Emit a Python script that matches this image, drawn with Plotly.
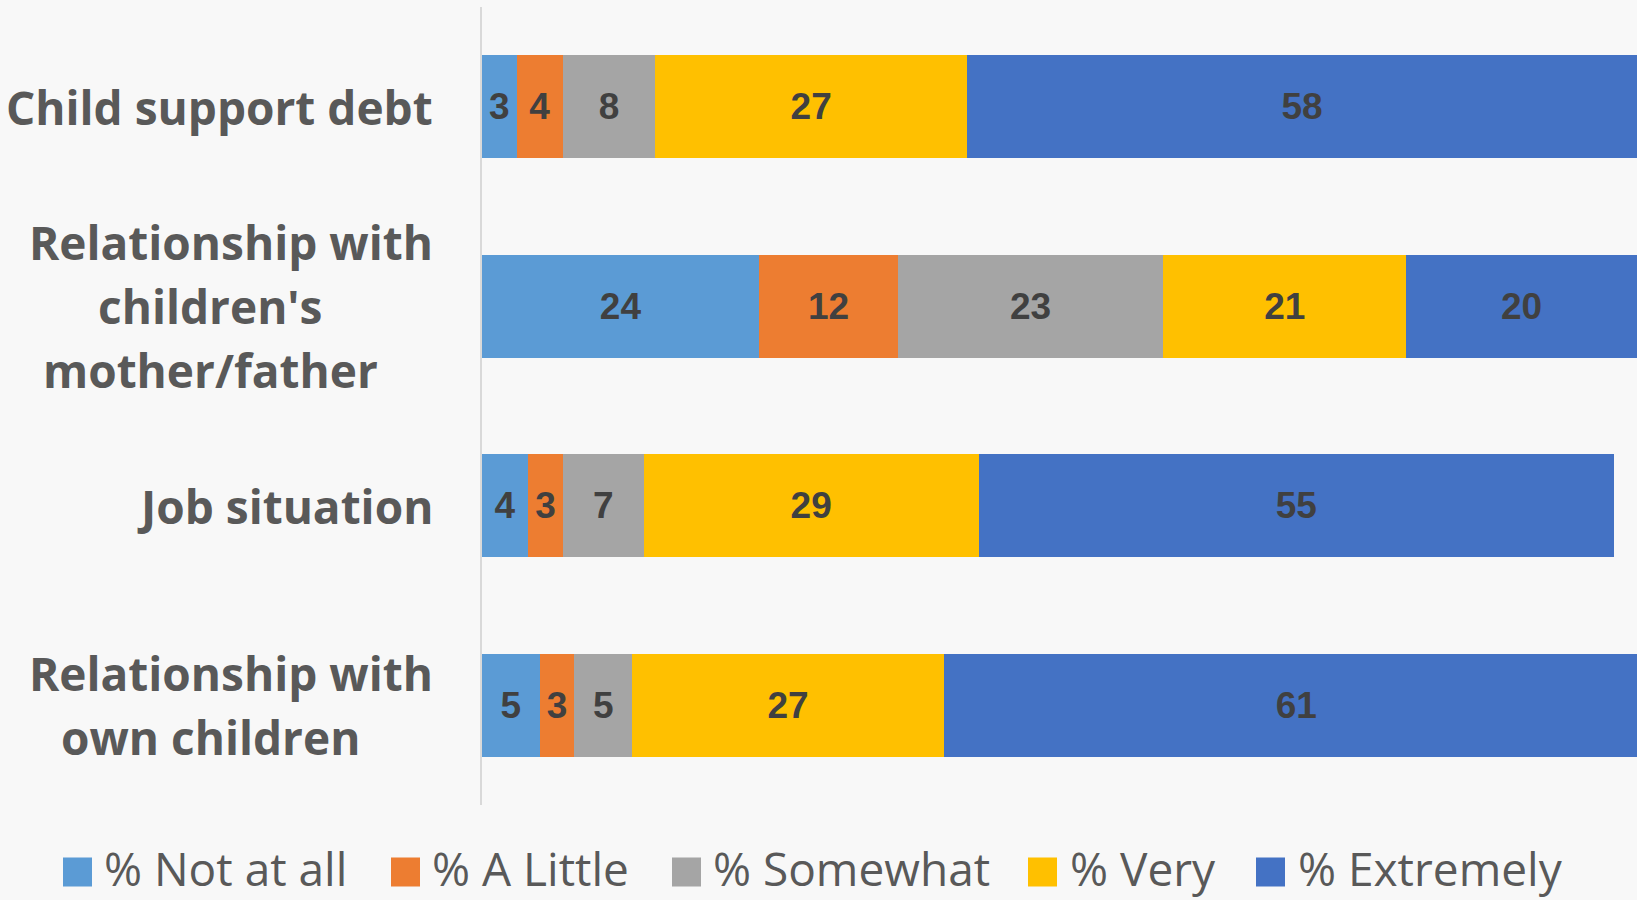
import plotly.graph_objects as go

# ---- data ----
categories = [
    "Child support debt",
    "Relationship with children's mother/father",
    "Job situation",
    "Relationship with own children",
]
category_lines = [
    ["Child support debt"],
    ["Relationship with", "children's", "mother/father"],
    ["Job situation"],
    ["Relationship with", "own children"],
]
series_names = ["% Not at all", "% A Little", "% Somewhat", "% Very", "% Extremely"]
not_at_all = [3, 24, 4, 5]
a_little = [4, 12, 3, 3]
somewhat = [8, 23, 7, 5]
very = [27, 21, 29, 27]
extremely = [58, 20, 55, 61]

series_values = [not_at_all, a_little, somewhat, very, extremely]
colors = ["#5B9BD5", "#ED7D31", "#A5A5A5", "#FFC000", "#4472C4"]

# ---- layout constants (pixels) ----
W, H = 1637, 900
ML, MR, MT, MB = 482, 0, 7, 95
PW, PH = W - ML - MR, H - MT - MB
BG = "#F8F8F8"
LABEL_RIGHT = 435      # right edge of the category labels
WRAP_CENTER = 210      # centre of wrapped continuation lines
LINE_STEP = 64         # line spacing of category labels


def px_x(p):
    return (p - ML) / PW


def px_y(p):
    return (H - MB - p) / PH


fig = go.Figure()
for name, vals, col in zip(series_names, series_values, colors):
    fig.add_trace(
        go.Bar(
            y=categories,
            x=vals,
            name=name,
            orientation="h",
            marker=dict(color=col, line=dict(width=0)),
            text=[str(v) for v in vals],
            textposition="inside",
            insidetextanchor="middle",
            textangle=0,
            textfont=dict(family="Liberation Sans", size=37, color="#404040", weight="bold"),
            showlegend=False,
            hoverinfo="x+y+name",
        )
    )

label_font = dict(family="Open Sans", size=46, color="#595959", weight="bold")
annotations = []
for cat, lines in zip(categories, category_lines):
    n = len(lines)
    for j, line in enumerate(lines):
        first = j == 0
        annotations.append(
            dict(
                x=px_x(LABEL_RIGHT if first else WRAP_CENTER), xref="paper",
                xanchor="right" if first else "center",
                y=cat, yref="y", yanchor="middle",
                yshift=((n - 1) / 2 - j) * LINE_STEP,
                text=line, showarrow=False, font=label_font,
            )
        )

# custom legend (large square swatches)
sq_left = [63, 391, 672, 1028, 1256]
txt_left = [103, 431, 712, 1069, 1297]
sq_size = 29
sq_y = 872
txt_y = 868
shapes = []
for name, col, sx, tx in zip(series_names, colors, sq_left, txt_left):
    shapes.append(
        dict(
            type="rect", xref="paper", yref="paper",
            x0=px_x(sx), x1=px_x(sx + sq_size),
            y0=px_y(sq_y - sq_size / 2), y1=px_y(sq_y + sq_size / 2),
            fillcolor=col, line=dict(width=0),
        )
    )
    annotations.append(
        dict(
            x=px_x(tx), xref="paper", xanchor="left",
            y=px_y(txt_y), yref="paper", yanchor="middle",
            text=name, showarrow=False, borderpad=0,
            font=dict(family="Open Sans", size=46, color="#595959"),
        )
    )

fig.update_layout(
    width=W, height=H,
    margin=dict(l=ML, r=MR, t=MT, b=MB, pad=0),
    barmode="stack",
    bargap=0.485,
    paper_bgcolor=BG,
    plot_bgcolor=BG,
    showlegend=False,
    annotations=annotations,
    shapes=shapes,
    xaxis=dict(range=[0, 100], visible=False, fixedrange=True),
    yaxis=dict(
        autorange="reversed", showticklabels=False, ticks="",
        showgrid=False, zeroline=False, fixedrange=True,
        showline=True, linecolor="#D9D9D9", linewidth=2,
    ),
)

fig.write_html(
    "out.html",
    config={"displayModeBar": False},
    post_script="document.body.style.margin='0';document.body.style.overflow='hidden';",
)
